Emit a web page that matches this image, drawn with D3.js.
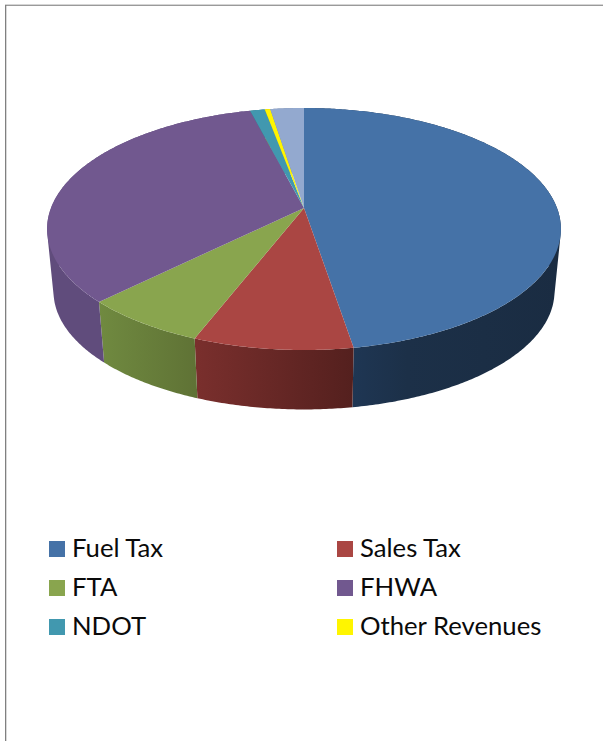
<!DOCTYPE html>
<html>
<head>
<meta charset="utf-8">
<script src="https://cdnjs.cloudflare.com/ajax/libs/d3/7.8.5/d3.min.js"></script>
<style>
html,body{margin:0;padding:0;background:#fff;overflow:hidden}
svg{display:block}
</style>
</head>
<body>
<script>
// Data (percent share of each slice)
const categories = ["Fuel Tax","Sales Tax","FTA","FHWA","NDOT","Other Revenues",""];
const values = [47.4,8.5,6.7,33.4,1.1,0.4,2.5];
const topColors = ["#4572A7","#AA4643","#89A54E","#71588F","#4198AF","#FFF500","#93A9CF"];
const sideStops = [
  [[0,"#213C5E"],[0.4,"#1C3048"],[1,"#1A2C42"]],
  [[0,"#7A2F2D"],[1,"#54201E"]],
  [[0,"#708A40"],[1,"#5F7235"]],
  [[0,"#604C7C"],[1,"#604C7C"]],
  [[0,"#2F7184"],[1,"#2F7184"]],
  [[0,"#B0A900"],[1,"#B0A900"]],
  [[0,"#6F80A0"],[1,"#6F80A0"]]
];

const W = 603, H = 741;
const svg = d3.select("body").append("svg").attr("width",W).attr("height",H);

// Frame
svg.append("rect").attr("x",5).attr("y",4).attr("width",W-5).attr("height",1).attr("fill","#d5d5d5");
svg.append("rect").attr("x",5).attr("y",5).attr("width",W-5).attr("height",1).attr("fill","#9a9a9a");
svg.append("rect").attr("x",5).attr("y",5).attr("width",1.3).attr("height",H-5).attr("fill","#808080");

// Perspective projection of the pie disc
const apex = {x:304, y:208}, a = 253, b = 117.35, k = 0.1736;
const depthY = 271, depthScale = 0.975;
function project(angle, level){
  const X = Math.sin(angle), Y = -Math.cos(angle);
  const w = 1 - k*Y;
  const dx = a*X/w, dy = b*Y/w;
  return level === 0
    ? [apex.x + dx, apex.y + dy]
    : [apex.x + depthScale*dx, depthY + depthScale*dy];
}
const arcs = d3.pie().sort(null).value(d=>d)(values);
const line = d3.line();
const rim = (s,e,level) => {
  const n = Math.max(2, Math.ceil((e-s)/0.01));
  return d3.range(n+1).map(i => project(s+(e-s)*i/n, level));
};
// The wall of a slice is the union of many thin quads, all wound the same way
// so that overlapping quads near the silhouette do not cancel out
const wall = d => {
  const t = rim(d.startAngle,d.endAngle,0), u = rim(d.startAngle,d.endAngle,1);
  return d3.range(t.length-1).map(i=>{
    const q = [t[i],t[i+1],u[i+1],u[i]];
    return line(d3.polygonArea(q) < 0 ? q.reverse() : q)+"Z";
  }).join("");
};

const defs = svg.append("defs");
sideStops.forEach((stops,i)=>{
  const g = defs.append("linearGradient").attr("id","side"+i);
  stops.forEach(s=>g.append("stop").attr("offset",s[0]).attr("stop-color",s[1]));
});

// Sides
svg.append("g").selectAll("path").data(arcs).join("path")
  .attr("d",wall)
  .attr("fill",(d,i)=>`url(#side${i})`);

// Top faces
svg.append("g").selectAll("path").data(arcs).join("path")
  .attr("d",d=>line([[apex.x,apex.y]].concat(rim(d.startAngle,d.endAngle,0)))+"Z")
  .attr("fill",(d,i)=>topColors[i]);

// Legend
const legendItems = categories.map((c,i)=>({name:c,color:topColors[i],i})).filter(d=>d.name);
const legendX = d3.scalePoint().domain([0,1]).range([49,337]);
const legendY = d3.scalePoint().domain([0,1,2]).range([541,619]);
const lg = svg.append("g").selectAll("g").data(legendItems).join("g")
  .attr("transform",d=>`translate(${legendX(d.i%2)},${legendY(Math.floor(d.i/2))})`);
lg.append("rect").attr("width",16).attr("height",16).attr("fill",d=>d.color);
lg.append("text").attr("x",23).attr("y",16)
  .attr("font-family","Lato, 'Open Sans', sans-serif").attr("font-size",25.7).attr("fill","#0a0a0a")
  .text(d=>d.name);
</script>
</body>
</html>
